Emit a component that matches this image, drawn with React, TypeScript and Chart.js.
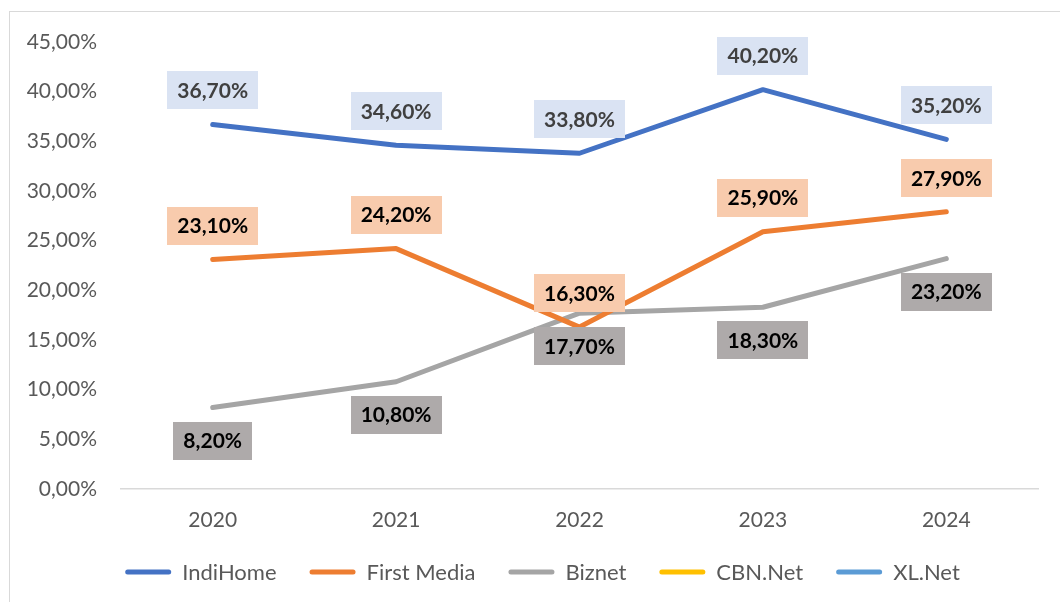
import React, { useEffect, useRef } from "react";
import { Chart, registerables } from "chart.js";

Chart.register(...registerables);

// ---- Data ----
const years = ["2020", "2021", "2022", "2023", "2024"];
const indiHome = [36.7, 34.6, 33.8, 40.2, 35.2];
const firstMedia = [23.1, 24.2, 16.3, 25.9, 27.9];
const biznet = [8.2, 10.8, 17.7, 18.3, 23.2];
const cbnNet: (number | null)[] = [null, null, null, null, null];
const xlNet: (number | null)[] = [null, null, null, null, null];
const seriesNames = ["IndiHome", "First Media", "Biznet", "CBN.Net", "XL.Net"];
const yMin = 0;
const yMax = 45;
const yStep = 5;

// ---- Styles ----
const FONT = "Lato, 'Open Sans', sans-serif";
const lineColors = ["#4472C4", "#ED7D31", "#A5A5A5", "#FFC000", "#5B9BD5"];
const labelStyles: ({ bg: string; color: string; pos: "above" | "below" } | null)[] = [
  { bg: "#DAE3F3", color: "#404040", pos: "above" },
  { bg: "#F8CBAD", color: "#000000", pos: "above" },
  { bg: "#AEAAAA", color: "#000000", pos: "below" },
  null,
  null,
];

const fmt = (v: number) => v.toFixed(2).replace(".", ",") + "%";

const dataLabelPlugin = {
  id: "boxLabels",
  afterDatasetsDraw(chart: any) {
    const ctx = chart.ctx as CanvasRenderingContext2D;
    ctx.save();
    ctx.font = `bold 21px ${FONT}`;
    ctx.textAlign = "center";
    ctx.textBaseline = "middle";
    chart.data.datasets.forEach((ds: any, di: number) => {
      const st = labelStyles[di];
      if (!st) return;
      const meta = chart.getDatasetMeta(di);
      meta.data.forEach((pt: any, i: number) => {
        const v = ds.data[i];
        if (v == null) return;
        const text = fmt(v);
        const tw = ctx.measureText(text).width;
        const w = tw + 20;
        const h = 38;
        const cy = st.pos === "above" ? pt.y - 34 : pt.y + 33;
        const cx = pt.x;
        ctx.fillStyle = st.bg;
        ctx.fillRect(Math.round(cx - w / 2), Math.round(cy - h / 2), Math.round(w), h);
        ctx.fillStyle = st.color;
        ctx.fillText(text, cx, cy + 1);
      });
    });
    ctx.restore();
  },
};

// Excel-like legend drawn below the axis
const legendPlugin = {
  id: "bottomLegend",
  afterDraw(chart: any) {
    const ctx = chart.ctx as CanvasRenderingContext2D;
    const lineLen = 46;
    const gap = 11;
    const itemGap = 33;
    const cx = 542.5;
    const cy = 572;
    ctx.save();
    ctx.font = `22px ${FONT}`;
    ctx.textBaseline = "middle";
    ctx.textAlign = "left";
    const items = chart.data.datasets.map((ds: any) => ({
      text: ds.label as string,
      color: ds.borderColor as string,
      lw: ds.borderWidth as number,
      tw: ctx.measureText(ds.label).width,
    }));
    const total =
      items.reduce((s: number, it: any) => s + lineLen + gap + it.tw, 0) + itemGap * (items.length - 1);
    let x = cx - total / 2;
    items.forEach((it: any) => {
      ctx.strokeStyle = it.color;
      ctx.lineWidth = it.lw;
      ctx.lineCap = "round";
      ctx.beginPath();
      ctx.moveTo(x + 2.5, cy);
      ctx.lineTo(x + lineLen - 2.5, cy);
      ctx.stroke();
      ctx.fillStyle = "#595959";
      ctx.fillText(it.text, x + lineLen + gap, cy + 1);
      x += lineLen + gap + it.tw + itemGap;
    });
    ctx.restore();
  },
};

export default function App() {
  const ref = useRef<HTMLCanvasElement | null>(null);

  useEffect(() => {
    if (!ref.current) return;
    const allData = [indiHome, firstMedia, biznet, cbnNet, xlNet];
    const chart = new Chart(ref.current, {
      type: "line",
      data: {
        labels: years,
        datasets: seriesNames.map((name, i) => ({
          label: name,
          data: allData[i] as any,
          borderColor: lineColors[i],
          backgroundColor: lineColors[i],
          borderWidth: 5,
          borderCapStyle: "round" as const,
          borderJoinStyle: "round" as const,
          pointRadius: 0,
          pointHoverRadius: 0,
          tension: 0,
          fill: false,
        })),
      },
      options: {
        responsive: false,
        animation: false,
        events: [],
        layout: { padding: { top: 42, left: 0, right: 22, bottom: 74 } },
        plugins: {
          tooltip: { enabled: false },
          legend: { display: false },
        },
        scales: {
          x: {
            offset: true,
            grid: { display: true, drawOnChartArea: false, drawTicks: false },
            border: { display: true, color: "#D9D9D9", width: 1.5 },
            ticks: {
              color: "#595959",
              font: { family: FONT, size: 21 },
              padding: 19,
              maxRotation: 0,
            },
            afterFit: (s: any) => {
              s.height = 39;
            },
          },
          y: {
            min: yMin,
            max: yMax,
            grid: { display: false, drawTicks: false },
            border: { display: false },
            ticks: {
              stepSize: yStep,
              color: "#595959",
              font: { family: FONT, size: 21 },
              padding: 24,
              callback: (v: any) => fmt(Number(v)),
            },
            afterFit: (s: any) => {
              s.width = 121;
            },
          },
        },
      },
      plugins: [dataLabelPlugin, legendPlugin],
    });
    const fonts = (document as any).fonts;
    if (fonts && fonts.load) {
      Promise.all([fonts.load(`21px Lato`), fonts.load(`bold 21px Lato`)]).then(() => {
        try { chart.update(); } catch (e) {}
      });
    }
    return () => chart.destroy();
  }, []);

  return (
    <div
      style={{
        position: "fixed",
        left: 0,
        top: 0,
        width: 1060,
        height: 602,
        background: "#ffffff",
        overflow: "hidden",
      }}
    >
      <div
        style={{
          position: "absolute",
          left: 9,
          top: 11,
          width: 1100,
          height: 700,
          borderLeft: "1px solid #D9D9D9",
          borderTop: "1px solid #D9D9D9",
        }}
      />
      <canvas
        ref={ref}
        width={1060}
        height={602}
        style={{ position: "absolute", left: 0, top: 0, width: 1060, height: 602 }}
      />
    </div>
  );
}
